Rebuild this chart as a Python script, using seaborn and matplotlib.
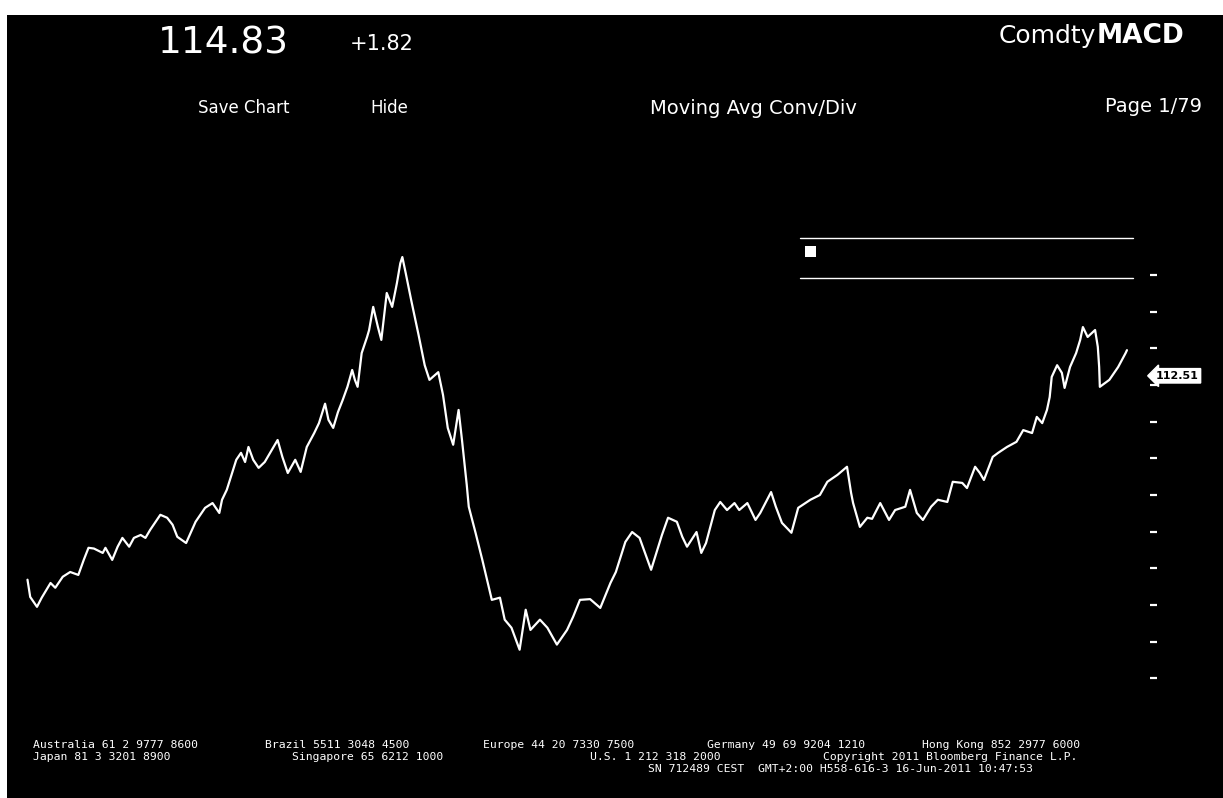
import pandas as pd
import matplotlib.pyplot as plt
from matplotlib.lines import Line2D
from matplotlib.patches import Rectangle
import seaborn as sns

# price series (Brent style commodity, Jan 2007 - Jun 2011)
dates = [
    "2007-01-05", "2007-01-09", "2007-01-19", "2007-01-26", "2007-02-08", "2007-02-15", "2007-02-26", "2007-03-09", "2007-03-21", "2007-03-29",
    "2007-04-05", "2007-04-13", "2007-04-26", "2007-04-30", "2007-05-10", "2007-05-18", "2007-05-25", "2007-06-04", "2007-06-11", "2007-06-21",
    "2007-06-28", "2007-07-05", "2007-07-20", "2007-07-30", "2007-08-07", "2007-08-14", "2007-08-27", "2007-09-10", "2007-09-24", "2007-10-05",
    "2007-10-15", "2007-10-19", "2007-10-26", "2007-11-02", "2007-11-09", "2007-11-16", "2007-11-22", "2007-11-27", "2007-12-04", "2007-12-12",
    "2007-12-21", "2008-01-02", "2008-01-09", "2008-01-16", "2008-01-24", "2008-02-04", "2008-02-12", "2008-02-21", "2008-03-03", "2008-03-10",
    "2008-03-19", "2008-03-24", "2008-03-31", "2008-04-07", "2008-04-14", "2008-04-21", "2008-04-28", "2008-05-02", "2008-05-06", "2008-05-12",
    "2008-05-20", "2008-05-23", "2008-05-29", "2008-06-05", "2008-06-10", "2008-06-18", "2008-06-26", "2008-07-03", "2008-07-08", "2008-07-11",
    "2008-07-16", "2008-07-24", "2008-08-04", "2008-08-13", "2008-08-20", "2008-09-02", "2008-09-09", "2008-09-16", "2008-09-24", "2008-10-02",
    "2008-10-07", "2008-10-14", "2008-10-17", "2008-10-27", "2008-11-06", "2008-11-14", "2008-11-20", "2008-12-02", "2008-12-09", "2008-12-19",
    "2008-12-31", "2009-01-09", "2009-01-16", "2009-01-30", "2009-02-10", "2009-02-24", "2009-03-11", "2009-03-20", "2009-03-30", "2009-04-14",
    "2009-04-29", "2009-05-14", "2009-05-22", "2009-06-05", "2009-06-15", "2009-06-26", "2009-07-13", "2009-07-22", "2009-07-29", "2009-08-07",
    "2009-08-20", "2009-08-28", "2009-09-04", "2009-09-18", "2009-09-25", "2009-10-02", "2009-10-15", "2009-10-23", "2009-11-02", "2009-11-13",
    "2009-11-20", "2009-12-02", "2009-12-14", "2009-12-21", "2010-01-06", "2010-01-13", "2010-01-22", "2010-02-05", "2010-02-15", "2010-03-05",
    "2010-03-19", "2010-03-30", "2010-04-14", "2010-04-28", "2010-05-04", "2010-05-07", "2010-05-17", "2010-05-28", "2010-06-04", "2010-06-16",
    "2010-06-29", "2010-07-08", "2010-07-23", "2010-07-30", "2010-08-09", "2010-08-18", "2010-08-30", "2010-09-09", "2010-09-23", "2010-10-01",
    "2010-10-15", "2010-10-22", "2010-11-03", "2010-11-10", "2010-11-16", "2010-11-29", "2010-12-07", "2010-12-20", "2011-01-03", "2011-01-13",
    "2011-01-26", "2011-02-02", "2011-02-10", "2011-02-17", "2011-02-21", "2011-02-24", "2011-03-04", "2011-03-11", "2011-03-15", "2011-03-23",
    "2011-04-01", "2011-04-07", "2011-04-11", "2011-04-18", "2011-04-29", "2011-05-03", "2011-05-05", "2011-05-06", "2011-05-20", "2011-06-02",
    "2011-06-13", "2011-06-15",
]
prices = [
    56.9, 52.2, 49.5, 52.0, 56.0, 54.7, 57.7, 59.0, 58.2, 62.3,
    65.6, 65.4, 64.2, 65.6, 62.3, 65.9, 68.3, 65.9, 68.3, 69.1,
    68.3, 70.5, 74.6, 73.8, 71.9, 68.6, 66.9, 72.7, 76.5, 77.8,
    75.1, 78.7, 81.4, 85.5, 89.6, 91.5, 89.0, 93.1, 89.6, 87.4,
    89.0, 92.8, 95.0, 90.4, 86.0, 89.6, 86.3, 93.1, 96.9, 99.6,
    104.9, 100.5, 98.3, 102.6, 105.9, 109.5, 114.1, 111.4, 109.5, 118.7,
    123.1, 125.0, 131.3, 125.8, 122.3, 135.1, 131.3, 137.8, 143.2, 144.9,
    140.5, 133.2, 123.6, 115.4, 111.4, 113.5, 107.3, 98.3, 93.7, 103.2,
    95.0, 82.8, 76.8, 69.7, 62.3, 56.0, 51.4, 52.0, 46.0, 43.8,
    37.8, 48.7, 43.2, 46.0, 43.8, 39.2, 43.2, 46.8, 51.4, 51.6,
    49.2, 56.0, 59.0, 67.2, 69.9, 68.3, 59.6, 65.0, 69.1, 73.8,
    72.7, 68.6, 65.9, 69.9, 64.2, 66.9, 75.9, 78.1, 75.9, 77.8,
    75.9, 77.8, 73.2, 75.1, 80.8, 76.8, 72.4, 69.7, 76.5, 78.7,
    80.0, 83.6, 85.5, 87.7, 80.6, 77.8, 71.3, 73.8, 73.5, 77.8,
    73.2, 75.9, 76.8, 81.4, 75.1, 73.2, 76.8, 78.7, 78.1, 83.6,
    83.3, 81.9, 87.7, 86.0, 84.1, 90.4, 91.5, 93.1, 94.5, 97.7,
    96.9, 101.3, 99.6, 103.2, 106.7, 112.2, 115.4, 113.3, 109.2, 114.9,
    118.7, 122.3, 125.8, 123.1, 125.0, 120.4, 114.9, 109.5, 111.4, 114.9,
    118.7, 119.5,
]
y_ticks = [30, 40, 50, 60, 70, 80, 90, 100, 110, 120, 130, 140]
last_label = "112.51"
last_value = 112.51

footer_lines = [
    [("Australia 61 2 9777 8600", 33), ("Brazil 5511 3048 4500", 265), ("Europe 44 20 7330 7500", 483),
     ("Germany 49 69 9204 1210", 707), ("Hong Kong 852 2977 6000", 922)],
    [("Japan 81 3 3201 8900", 33), ("Singapore 65 6212 1000", 292), ("U.S. 1 212 318 2000", 590),
     ("Copyright 2011 Bloomberg Finance L.P.", 823)],
    [("SN 712489 CEST  GMT+2:00 H558-616-3 16-Jun-2011 10:47:53", 648)],
]

df = pd.DataFrame({"Date": pd.to_datetime(dates), "Price": prices})

sns.set_style("dark", {"axes.facecolor": "black", "figure.facecolor": "white"})
plt.rcParams["font.family"] = ["DejaVu Sans"]

W, H = 1223, 798
fig = plt.figure(figsize=(W / 100, H / 100), dpi=100)


def fx(px):
    return px / W


def fy(py):
    return 1 - py / H


# black terminal screen
fig.add_artist(Rectangle((fx(7), 0), 1 - fx(7), fy(15), transform=fig.transFigure,
                         facecolor="black", edgecolor="none", zorder=0))

ax = fig.add_axes([fx(18), fy(715), fx(1150) - fx(18), fy(220) - fy(715)])
sns.lineplot(data=df, x="Date", y="Price", color="white", linewidth=1.6, ax=ax)

ax.set_facecolor("black")
ax.set_xlim(pd.Timestamp("2006-12-22"), pd.Timestamp("2011-07-19"))
ax.set_ylim(20, 155)
ax.grid(False)
for s in ax.spines.values():
    s.set_visible(False)
ax.set_xticks([])
ax.set_xlabel("")
ax.set_ylabel("")
ax.yaxis.tick_right()
ax.set_yticks(y_ticks)
ax.tick_params(axis="y", colors="white", length=5, width=1.6, labelright=False, labelleft=False, left=False)

# last price tag
ax.annotate(last_label, xy=(1.0, last_value), xycoords=("axes fraction", "data"),
            xytext=(4, 0), textcoords="offset points", ha="left", va="center",
            fontsize=8, fontweight="bold", color="black",
            bbox=dict(boxstyle="larrow,pad=0.2", fc="white", ec="white"))

# legend frame (text lost in the original)
fig.add_artist(Line2D([fx(800), fx(1133)], [fy(238), fy(238)], color="white", lw=1))
fig.add_artist(Line2D([fx(800), fx(1133)], [fy(278), fy(278)], color="white", lw=1))
fig.add_artist(Rectangle((fx(805), fy(257)), fx(11), 11 / H, transform=fig.transFigure,
                         facecolor="white", edgecolor="none"))

# header
fig.text(fx(158), fy(44), "114.83", fontsize=27, color="white", va="center", ha="left")
fig.text(fx(350), fy(44), "+1.82", fontsize=15, color="white", va="center", ha="left")
fig.text(fx(1096), fy(36), "Comdty", fontsize=18, color="white", va="center", ha="right")
fig.text(fx(1097), fy(36), "MACD", fontsize=19, color="white", va="center", ha="left", fontweight="bold")
fig.text(fx(198), fy(108), "Save Chart", fontsize=12, color="white", va="center", ha="left")
fig.text(fx(370), fy(108), "Hide", fontsize=12, color="white", va="center", ha="left")
fig.text(fx(650), fy(108), "Moving Avg Conv/Div", fontsize=14, color="white", va="center", ha="left")
fig.text(fx(1202), fy(106), "Page 1/79", fontsize=14, color="white", va="center", ha="right")

# footer
for row, items in zip([745, 757, 769], footer_lines):
    for txt, x in items:
        fig.text(fx(x), fy(row), txt, fontsize=8.2, color="white", va="center", ha="left",
                 family="DejaVu Sans Mono")

fig.savefig("out.png", dpi=100)
